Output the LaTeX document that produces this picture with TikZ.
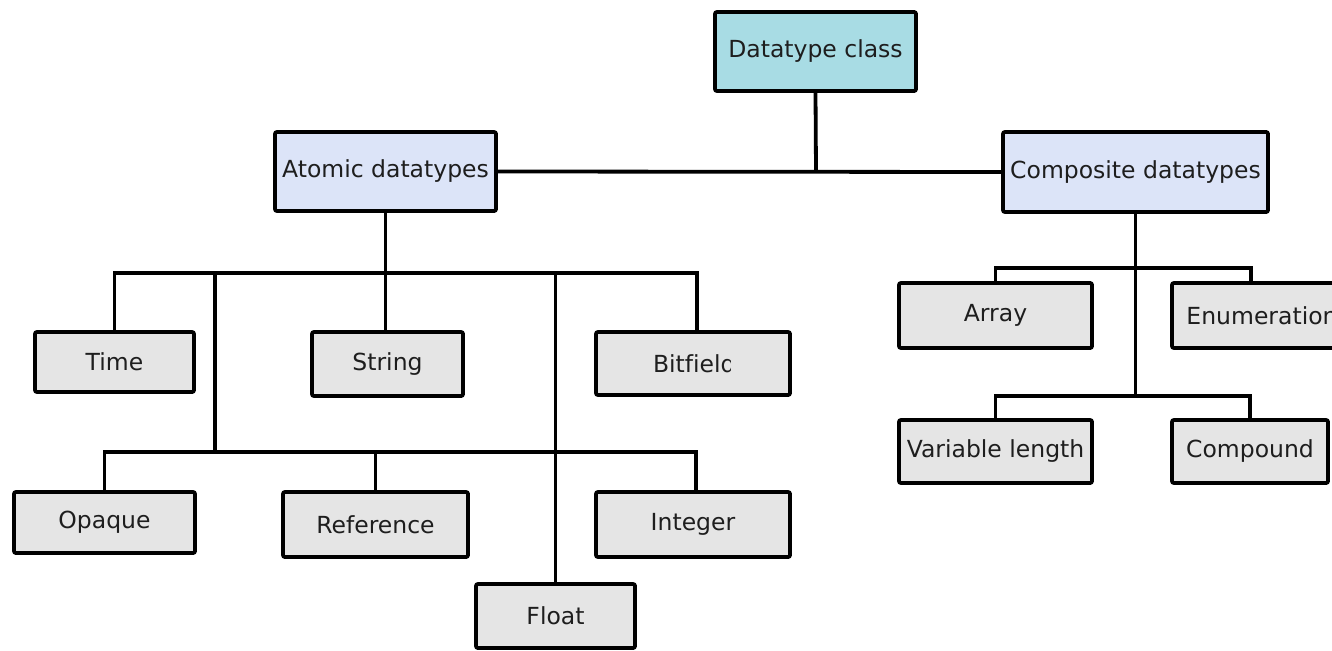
\documentclass[tikz,border=0pt]{standalone}
\usepackage{fontspec}
\setmainfont[Ligatures=NoCommon]{DejaVu Sans}
\definecolor{rootfill}{HTML}{A8DCE4}
\definecolor{groupfill}{HTML}{DCE4F8}
\definecolor{leaffill}{HTML}{E5E5E5}
\definecolor{inkcol}{HTML}{1E1E1E}
\tikzset{
  box/.style={draw=black, line width=3.8pt, rounded corners=2pt, inner sep=0pt,
              text=inkcol, font=\fontsize{23.5}{27}\selectfont},
  rootbox/.style={box, fill=rootfill},
  groupbox/.style={box, fill=groupfill},
  leafbox/.style={box, fill=leaffill},
  wire/.style={draw=black, line width=3.8pt},
  plainlabel/.style={inner sep=0pt, text=inkcol, font=\fontsize{23.5}{27}\selectfont}
}
\begin{document}
\begin{tikzpicture}[x=1pt,y=-1pt]
\useasboundingbox (0,0) rectangle (1332,650);
\clip (0,0) rectangle (1332,650);
\fill[white] (0,0) rectangle (1332,650);

% root and the two families
\node[rootbox,  minimum width=201pt, minimum height=79pt] (root)      at (815.5,51.5) {Datatype class};
\node[groupbox, minimum width=221pt, minimum height=79pt] (atomic)    at (385.5,171.5) {Atomic datatypes};
\node[groupbox, minimum width=265pt, minimum height=80pt] (composite) at (1135.5,172) {Composite datatypes};

% atomic leaves
\node[leafbox, minimum width=159pt, minimum height=60pt] (time)      at (114.5,362) {Time};
\node[leafbox, minimum width=151pt, minimum height=64pt] (string)    at (387.5,364) {String};
\node[leafbox, minimum width=194pt, minimum height=63pt] (bitfield)  at (693,363.5) {};
\begin{scope}
  \clip (596,330) rectangle (730,400);
  \node[plainlabel] (bitfieldlabel) at (694.3,363.5) {Bitfield};
\end{scope}
\node[leafbox, minimum width=181pt, minimum height=61pt] (opaque)    at (104.5,522.5) {Opaque};
\node[leafbox, minimum width=185pt, minimum height=65pt] (reference) at (375.5,524.5) {Reference};
\node[leafbox, minimum width=194pt, minimum height=65pt] (integer)   at (693,524.5) {Integer};
\node[leafbox, minimum width=159pt, minimum height=64pt] (float)     at (555.5,616) {Float};

% composite leaves
\node[leafbox, minimum width=193pt, minimum height=65pt] (array)     at (995.5,315.5) {Array};
\node[leafbox, minimum width=168pt, minimum height=65pt] (enum)      at (1256,315.5) {\hspace*{12pt}Enumeration};
\node[leafbox, minimum width=193pt, minimum height=63pt] (varlen)    at (995.5,451.5) {Variable length};
\node[leafbox, minimum width=156pt, minimum height=63pt] (compound)  at (1250,451.5) {Compound};

% bus junctions
\coordinate (topjoin) at (816,172);
\coordinate (abus)    at (385.5,273);
\coordinate (asplit)  at (215,273);
\coordinate (abus2)   at (215,452);
\coordinate (cbus)    at (1135.5,268);
\coordinate (cbus2)   at (1135.5,396);

% root to families
\draw[wire] (atomic.east) -- (composite.west);
\draw[wire] (root.south) -- (topjoin);

% atomic tree
\draw[wire] (atomic.south) -- (atomic.south |- string.north);
\draw[wire] (time.north) |- (abus);
\draw[wire] ([xshift=4pt]bitfield.north) |- (abus);
\draw[wire] (asplit) -- (abus2);
\draw[wire] (opaque.north) |- (abus2);
\draw[wire] (reference.north) |- (abus2);
\draw[wire] ([xshift=3pt]integer.north) |- (abus2);
\draw[wire] (float.north |- abus) -- (float.north);

% composite tree
\draw[wire] (composite.south) -- (cbus2);
\draw[wire] (array.north) |- (cbus);
\draw[wire] ([xshift=-5pt]enum.north) |- (cbus);
\draw[wire] (varlen.north) |- (cbus2);
\draw[wire] (compound.north) |- (cbus2);
\end{tikzpicture}
\end{document}
